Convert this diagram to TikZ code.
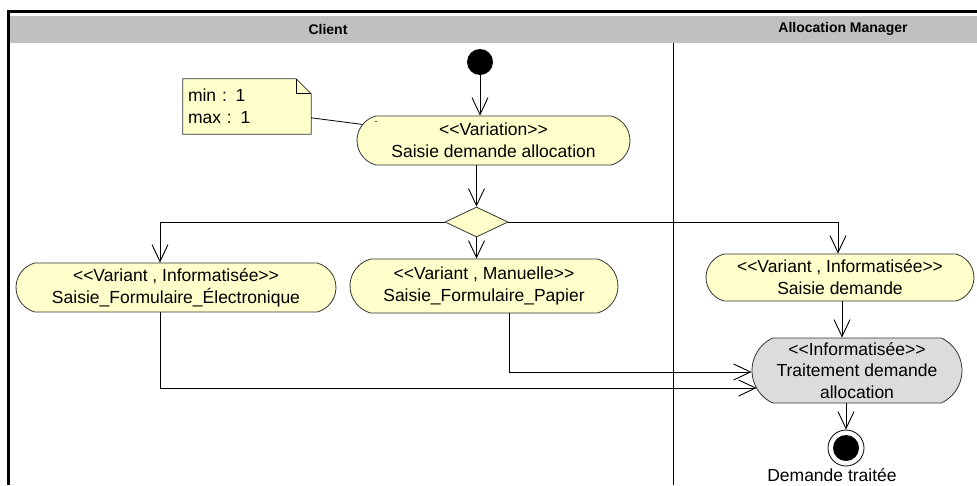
\documentclass[tikz,border=0pt]{standalone}
\usepackage{fontspec}
\setmainfont{Liberation Sans}[Ligatures=TeXOff]
\usepackage{tikz}
\usetikzlibrary{positioning,arrows.meta,shapes.geometric,shapes.misc,calc,backgrounds}
\definecolor{colact}{HTML}{FFFFCC}
\definecolor{colhead}{HTML}{C0C0C0}
\definecolor{colsys}{HTML}{DCDCDC}

\begin{document}
\begin{tikzpicture}[x=1pt, y=-1pt, every node/.style={font=\fontsize{17.5}{22}\selectfont},
    act/.style={rounded rectangle, rounded rectangle arc length=150, draw=black!80, line width=0.8pt, fill=colact, align=center, inner sep=0pt},
    flow/.style={-{Straight Barb[length=17pt,width=16pt]}, line width=0.9pt},
    lane/.style={font=\fontsize{14}{16}\selectfont\bfseries}]
    \useasboundingbox (0,0) rectangle (977,485);
    % swimlanes
    \fill[colhead] (10,15.5) rectangle (977,43);
    \draw[line width=2.6pt] (8.5,485) -- (8.5,11.5) -- (977,11.5);
    \draw[line width=0.8pt] (673,43) -- (673,485);
    \node[lane] (c) at (328,29) {Client};
    \node[lane] (m) at (843,29) {Allocation Manager};
    % activities
    \node[circle, fill=black, minimum size=26, inner sep=0pt] (s) at (480,62) {};
    \node[act, minimum width=273, minimum height=49] (v) at (493.5,140.5) {<<Variation>>\\Saisie demande allocation};
    \node[font=\fontsize{9}{10}\selectfont, inner sep=0pt] (v0) at (376,123) {-};
    \node[diamond, draw=black!80, line width=0.8pt, fill=colact, minimum width=63, minimum height=30, inner sep=0pt] (d) at (476.5,222) {};
    \node[act, minimum width=320, minimum height=49] (e) at (176,287.5) {<<Variant , Informatisée>>\\Saisie\_Formulaire\_Électronique};
    \node[act, minimum width=268, minimum height=54] (p) at (484,286) {<<Variant , Manuelle>>\\Saisie\_Formulaire\_Papier};
    \node[act, minimum width=268, minimum height=47] (sd) at (840,277.5) {<<Variant , Informatisée>>\\Saisie demande};
    \node[act, fill=colsys, rounded rectangle arc length=130, minimum width=210, minimum height=65, font=\fontsize{17.5}{21.5}\selectfont] (t) at (857,370.5) {<<Informatisée>>\\Traitement demande\\allocation};
    \node[circle, draw=black, line width=0.8pt, minimum size=36, inner sep=0pt] (f) at (846,448) {};
    \node[circle, fill=black, minimum size=26, inner sep=0pt] (f0) at (f) {};
    \node[below=-1.5pt of f, xshift=-14pt] (fl) {Demande traitée};
    % note
    \node[text width=118pt, inner xsep=5pt, inner ysep=0pt, minimum height=55, align=left] (n) at (247,106.5) {min : 1\\max : 1};
    \begin{scope}[on background layer]
      \draw[draw=black!80, line width=0.8pt, fill=colact] (n.north west) -- ($(n.north east)+(-15,0)$) -- ($(n.north east)+(0,15)$) -- (n.south east) -- (n.south west) -- cycle;
    \end{scope}
    \draw[line width=0.8pt] ($(n.north east)+(-15,0)$) |- ($(n.north east)+(0,15)$);
    \draw[line width=0.8pt] (n.-10) -- (v.173);
    % flows
    \draw[flow] (s) -- (s |- v.north);
    \draw[flow] (v.south -| d) -- (d.north);
    \draw[flow] (d.west) -| ([xshift=-16pt]e.north);
    \draw[flow] (d.south) -- (d.south |- p.north);
    \draw[flow] (d.east) -| ([xshift=-2pt]sd.north);
    \draw[flow] ([xshift=2pt]sd.south) -- ([xshift=2pt]sd.south |- t.north);
    \draw[flow] ([xshift=25pt]p.south) |- ([yshift=-1.5pt]t.west);
    \draw[flow] ([xshift=-16pt]e.south) |- ($(t.west)+(5,17.5)$);
    \draw[flow] (t.south -| f) -- (f.north);
  \end{tikzpicture}
\end{document}
